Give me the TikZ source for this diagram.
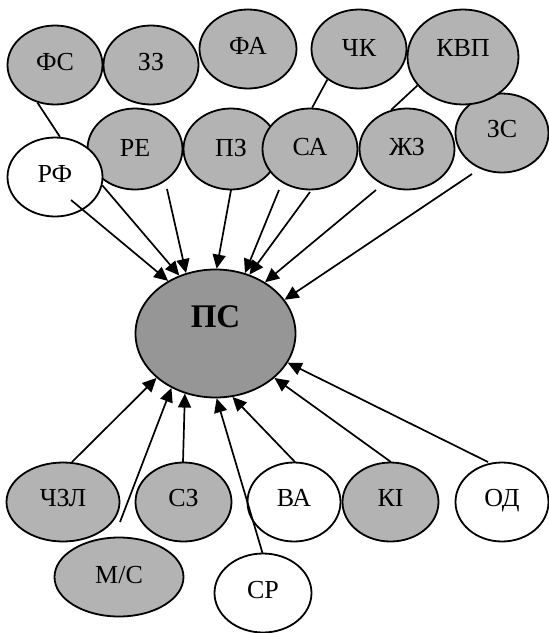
\documentclass[tikz,border=0pt]{standalone}
\usepackage{fontspec}
\setmainfont{Liberation Serif}
\usetikzlibrary{shapes.geometric,arrows.meta}
\definecolor{cellgray}{RGB}{179,179,179}
\definecolor{coregray}{RGB}{150,150,150}
\begin{document}
\begin{tikzpicture}[x=1pt,y=-1pt,
  oval/.style={ellipse, draw=black, line width=1.8pt, inner sep=0pt,
    minimum width=95pt, minimum height=79pt,
    font=\fontsize{26}{26}\selectfont, text height=17pt, text depth=6pt},
  filled/.style={oval, fill=cellgray},
  hollow/.style={oval, fill=white},
  lift/.style={text depth=#1},
  conn/.style={line width=1.7pt},
  arr/.style={line width=1.7pt, -{Triangle[length=14pt,width=13pt]}}]
\useasboundingbox (0,0) rectangle (549,633);

% upper ring of factors
\node[filled] (fs) at (55,65) {ФС};
\node[filled] (zz) at (151,65) {ЗЗ};
\node[filled, minimum width=97pt, lift=7pt] (fa) at (248,49) {ФА};
\node[filled, lift=3pt] (ck) at (359,49) {ЧК};
\node[filled, minimum width=93pt, lift=8pt] (zs) at (502,133) {ЗС};
\node[filled, minimum width=111pt, minimum height=95pt, lift=18pt] (kvp) at (463,57) {КВП};
\node[filled, minimum height=81pt, lift=3pt] (re) at (135,149) {РЕ};
\node[filled, minimum height=81pt, lift=3pt] (pz) at (231,149) {ПЗ};
\node[filled, minimum height=81pt, lift=5pt] (sa) at (310,149) {СА};
\node[filled, minimum height=81pt, lift=5pt] (zhz) at (407,149) {ЖЗ};
\node[hollow, lift=7pt] (rf) at (55,177) {РФ};

% central node
\node[ellipse, draw=black, line width=1.8pt, fill=coregray, inner sep=0pt,
  minimum width=160pt, minimum height=128pt,
  font=\fontsize{33}{33}\selectfont\bfseries, text height=22pt, text depth=35pt]
  (ps) at (215.5,333.5) {ПС};

% lower ring of factors
\node[filled, minimum width=113pt, lift=8pt] (czl) at (63,502) {ЧЗЛ};
\node[filled, minimum width=96pt, lift=8pt] (sz) at (183.5,502) {СЗ};
\node[hollow, minimum width=93pt, lift=8pt] (va) at (294,502) {ВА};
\node[filled, minimum width=96pt, lift=8pt] (ki) at (390.5,502) {КІ};
\node[hollow, minimum width=93pt, lift=8pt] (od) at (502,502) {ОД};
\node[filled, minimum width=129pt, lift=5pt] (ms) at (119,577) {М/С};
\node[hollow, minimum width=97pt, lift=6pt] (sr) at (263,593) {СР};

% links between neighbouring factors
\draw[conn] (fs.245) -- (rf.83);
\draw[conn] (ck.224) -- (sa.87);
\draw[conn] (kvp.212) -- (zhz.112);

% arrow tails
\coordinate (t1) at (71,200);
\coordinate (t3) at (167,189);
\coordinate (t4) at (231,190);
\coordinate (t5) at (279,190);
\coordinate (t6) at (310,192);
\coordinate (t7) at (376,190);
\coordinate (t8) at (472,174);
\coordinate (b1) at (72,462);
\coordinate (b2) at (120,522);
\coordinate (b3) at (183,462);
\coordinate (b4) at (262.5,553);
\coordinate (b5) at (295,462);
\coordinate (b6) at (391,462);
\coordinate (b7) at (488,462);

% influences on the central node
\draw[arr] (t1) -- (ps.132);
\draw[arr] (rf.350) -- (ps.122);
\draw[arr] (t3) -- (ps.116);
\draw[arr] (t4) -- (ps.89);
\draw[arr] (t5) -- (ps.64);
\draw[arr] (t6) -- (ps.60);
\draw[arr] (t7) -- (ps.46);
\draw[arr] (t8) -- (ps.26);
\draw[arr] (b1) -- (ps.217);
\draw[arr] (b2) -- (ps.231);
\draw[arr] (b3) -- (ps.243);
\draw[arr] (b4) -- (ps.271);
\draw[arr] (b5) -- (ps.285);
\draw[arr] (b6) -- (ps.323);
\draw[arr] (b7) -- (ps.338);
\end{tikzpicture}
\end{document}
